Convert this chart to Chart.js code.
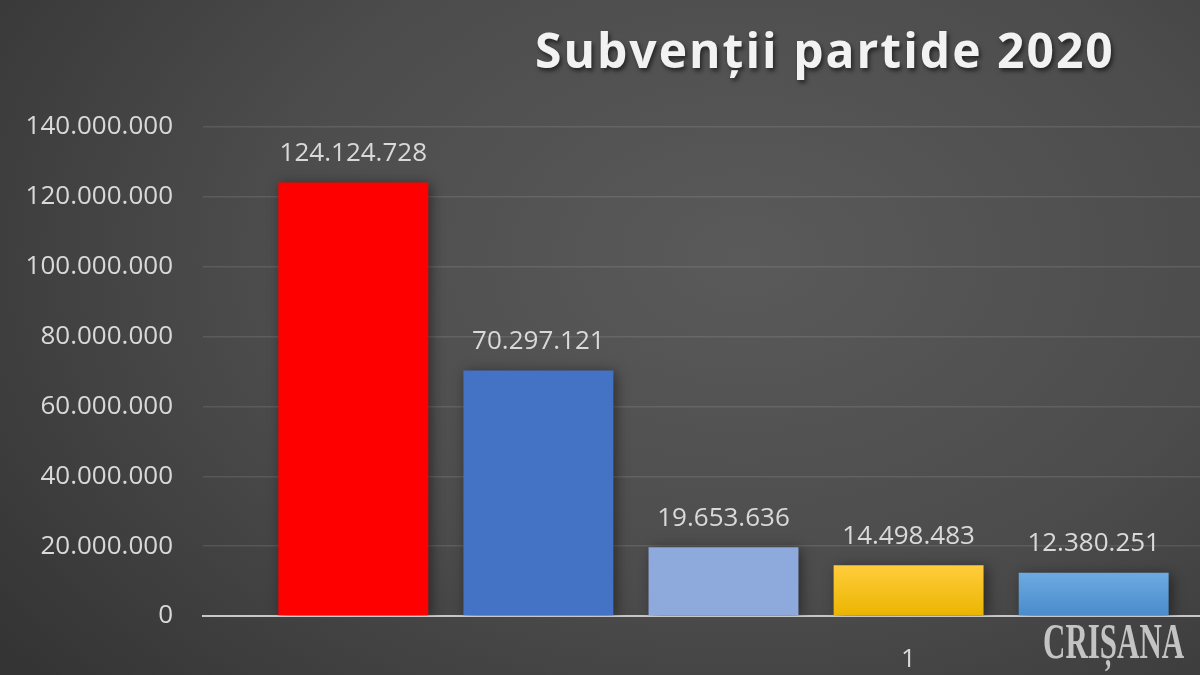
<!DOCTYPE html>
<html>
<head>
<meta charset="utf-8">
<script src="https://cdn.jsdelivr.net/npm/chart.js@4.4.0/dist/chart.umd.min.js"></script>
<style>
  html, body { margin: 0; padding: 0; overflow: hidden; }
  body {
    width: 1200px; height: 675px; position: relative;
    background: radial-gradient(ellipse 90% 110% at 62% 38%, #5a5a5a 0%, #4c4c4c 45%, #353535 85%, #2e2e2e 100%);
  }
  #wrap { position: absolute; left: 0; top: 0; width: 1250px; height: 675px; }
  #title {
    position: absolute; left: 535px; top: 17px;
    font-family: "Open Sans", sans-serif; font-weight: 700; font-size: 48px;
    color: #f2f2f2; letter-spacing: 2px; white-space: nowrap;
    text-shadow: 2px 3px 4px rgba(0,0,0,0.55);
  }
  #mark {
    position: absolute; left: 1043px; top: 616px;
    font-family: "Liberation Serif", serif; font-weight: 700; font-size: 50px; line-height: 1;
    color: #c4c4c4; white-space: nowrap;
    transform: scaleX(0.62); transform-origin: left top;
  }
</style>
</head>
<body>
<div id="wrap"><canvas id="chart" width="1250" height="675"></canvas></div>
<div id="title">Subvenții partide 2020</div>
<div id="mark">CRIȘANA</div>
<script>
// chart data
var categories = ['1'];
var seriesValues = [124124728, 70297121, 19653636, 14498483, 12380251];
var yTickStep = 20000000;
var yMax = 140000000;

// bar colours (top, bottom) - the last two have a soft gradient
var barColors = [
  ['#ff0000', '#ff0000'],
  ['#4472c4', '#4472c4'],
  ['#8eaadc', '#8eaadc'],
  ['#ffcd3c', '#eab500'],
  ['#6caae2', '#4a8bcb']
];

function fmt(v) {
  return String(Math.round(v)).replace(/\B(?=(\d{3})+(?!\d))/g, '.');
}

var datasets = seriesValues.map(function (v, i) {
  return {
    label: 'Serie ' + (i + 1),
    data: [v],
    backgroundColor: function (context) {
      var chart = context.chart;
      var c = barColors[i];
      if (!chart.chartArea || !chart.scales.y) return c[0];
      var top = chart.scales.y.getPixelForValue(v);
      var bottom = chart.scales.y.getPixelForValue(0);
      var g = chart.ctx.createLinearGradient(0, top, 0, bottom);
      g.addColorStop(0, c[0]);
      g.addColorStop(1, c[1]);
      return g;
    },
    borderWidth: 0
  };
});

// soft shadow behind the bars
var barShadow = {
  id: 'barShadow',
  beforeDatasetsDraw: function (chart) {
    var ctx = chart.ctx;
    ctx.save();
    ctx.shadowColor = 'rgba(0,0,0,0.45)';
    ctx.shadowBlur = 12;
    ctx.shadowOffsetX = 3;
    ctx.shadowOffsetY = 2;
  },
  afterDatasetsDraw: function (chart) {
    chart.ctx.restore();
  }
};

// value labels above the bars
var valueLabels = {
  id: 'valueLabels',
  afterDatasetsDraw: function (chart) {
    var ctx = chart.ctx;
    ctx.save();
    ctx.font = '26px "Open Sans", sans-serif';
    ctx.fillStyle = '#d9d9d9';
    ctx.textAlign = 'center';
    ctx.textBaseline = 'bottom';
    chart.data.datasets.forEach(function (ds, i) {
      var meta = chart.getDatasetMeta(i);
      meta.data.forEach(function (bar, j) {
        ctx.fillText(fmt(ds.data[j]), bar.x, bar.y - 16);
      });
    });
    ctx.restore();
  }
};

var ctx = document.getElementById('chart').getContext('2d');
var myChart = new Chart(ctx, {
  type: 'bar',
  data: { labels: categories, datasets: datasets },
  plugins: [barShadow, valueLabels],
  options: {
    responsive: false,
    animation: false,
    layout: { padding: { top: 127, right: 6, left: 0, bottom: 0 } },
    datasets: { bar: { categoryPercentage: 0.889, barPercentage: 0.81 } },
    plugins: { legend: { display: false }, title: { display: false }, tooltip: { enabled: false } },
    scales: {
      x: {
        grid: { display: false },
        border: { display: true, color: '#c8c8c8', width: 2 },
        ticks: {
          color: '#d9d9d9',
          font: { family: 'Open Sans', size: 26 },
          padding: 20,
          labelOffset: 185
        },
        afterFit: function (s) { s.height = 59; }
      },
      y: {
        min: 0,
        max: yMax,
        ticks: {
          stepSize: yTickStep,
          color: '#d9d9d9',
          font: { family: 'Open Sans', size: 26 },
          padding: 30,
          callback: function (v) { return fmt(v); }
        },
        grid: { color: 'rgba(255,255,255,0.10)', lineWidth: 1.5, drawTicks: false },
        border: { display: false },
        afterFit: function (s) { s.width = 203; }
      }
    }
  }
});
</script>
</body>
</html>
